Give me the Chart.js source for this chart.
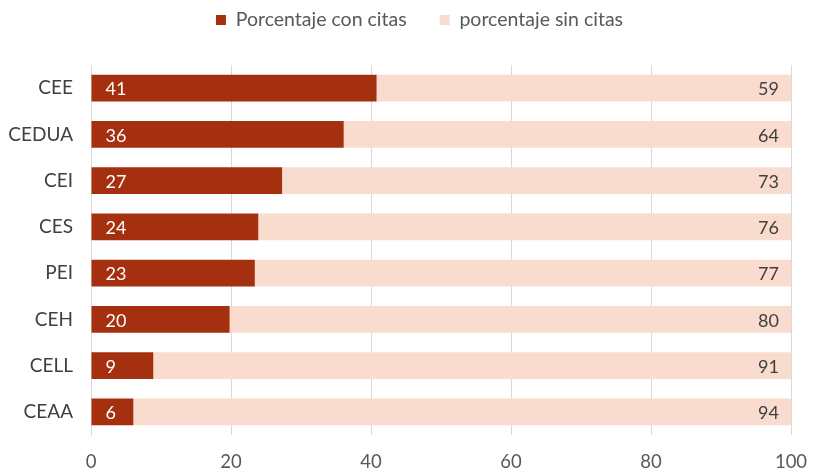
<!DOCTYPE html>
<html>
<head>
<meta charset="utf-8">
<script src="https://cdn.jsdelivr.net/npm/chart.js@4"></script>
<style>
  html, body { margin: 0; padding: 0; background: #fff; }
  #wrap { width: 814px; height: 473px; }
</style>
</head>
<body>
<div id="wrap"><canvas id="chart" width="814" height="473"></canvas></div>
<script>
(function() {
    'use strict';

    var centros = ['CEE', 'CEDUA', 'CEI', 'CES', 'PEI', 'CEH', 'CELL', 'CEAA'];
    var conCitas = [40.8, 36.1, 27.3, 23.9, 23.4, 19.8, 8.9, 6.05];
    var sinCitas = [59.2, 63.9, 72.7, 76.1, 76.6, 80.2, 91.1, 93.95];
    var xTicks = [0, 20, 40, 60, 80, 100];

    var FONT = 'Lato, "Open Sans", sans-serif';
    var DARK = '#a5300f';
    var LIGHT = '#f9dccd';

    // labels: white at the start of the dark bar, grey at the end of the light one
    var barLabels = {
        id: 'barLabels',
        afterDatasetsDraw: function(chart) {
            var ctx = chart.ctx;
            ctx.save();
            ctx.font = '18px ' + FONT;
            ctx.textBaseline = 'middle';
            chart.getDatasetMeta(0).data.forEach(function(bar, i) {
                ctx.fillStyle = '#ffffff';
                ctx.textAlign = 'left';
                ctx.fillText(Math.round(conCitas[i]), bar.base + 14, bar.y + 1.5);
            });
            chart.getDatasetMeta(1).data.forEach(function(bar, i) {
                ctx.fillStyle = '#404040';
                ctx.textAlign = 'right';
                ctx.fillText(Math.round(sinCitas[i]), bar.x - 12, bar.y + 1.5);
            });
            ctx.restore();
        }
    };

    // legend: more room below it, and sits a bit right of centre
    var legendSpace = {
        id: 'legendSpace',
        afterInit: function(chart) {
            var fit = chart.legend.fit;
            chart.legend.fit = function() {
                fit.call(this);
                this.height = 87.75;
            };
        },
        afterLayout: function(chart) {
            chart.legend.left += 24;
            chart.legend.right += 24;
        }
    };

    new Chart(document.getElementById('chart'), {
        type: 'bar',
        data: {
            labels: centros,
            datasets: [
                { label: 'Porcentaje con citas', data: conCitas, backgroundColor: DARK, borderWidth: 0 },
                { label: 'porcentaje sin citas', data: sinCitas, backgroundColor: LIGHT, borderWidth: 0 }
            ]
        },
        options: {
            indexAxis: 'y',
            responsive: false,
            animation: false,
            layout: { padding: { top: -22.75, left: 0, right: 23, bottom: 0 } },
            datasets: { bar: { categoryPercentage: 1, barPercentage: 0.577 } },
            plugins: {
                tooltip: { enabled: false },
                legend: {
                    display: true,
                    position: 'top',
                    labels: {
                        boxWidth: 10,
                        boxHeight: 10,
                        padding: 33,
                        color: '#595959',
                        font: { family: FONT, size: 19.5 }
                    }
                }
            },
            scales: {
                x: {
                    stacked: true,
                    min: 0,
                    max: 100,
                    afterBuildTicks: function(scale) {
                        scale.ticks = xTicks.map(function(v) { return { value: v }; });
                    },
                    afterFit: function(scale) {
                        scale.height = 38;
                        scale.paddingRight = 0;
                        scale.paddingLeft = 0;
                    },
                    grid: { color: '#d9d9d9', drawTicks: false },
                    border: { display: false },
                    ticks: { padding: 16, color: '#595959', font: { family: FONT, size: 18.5 } }
                },
                y: {
                    stacked: true,
                    afterFit: function(scale) { scale.width = 91; },
                    grid: { display: false, drawTicks: false },
                    border: { display: true, color: '#d9d9d9', width: 1 },
                    ticks: { padding: 18, color: '#404040', font: { family: FONT, size: 19 } }
                }
            }
        },
        plugins: [legendSpace, barLabels]
    });
})();
</script>
</body>
</html>
